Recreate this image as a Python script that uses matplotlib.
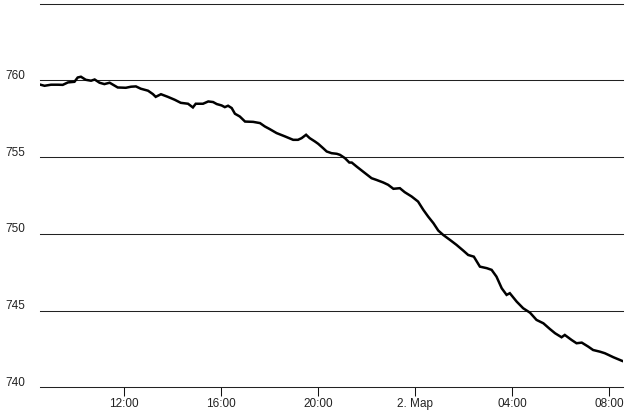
import matplotlib
matplotlib.use("Agg")
import matplotlib.pyplot as plt
import matplotlib.transforms as mtransforms
import pandas as pd

# pressure readings, 1 -> 2 March
times = [
    "03-01 08:33", "03-01 08:43", "03-01 08:59", "03-01 09:16", "03-01 09:28",
    "03-01 09:41", "03-01 09:57", "03-01 10:05", "03-01 10:13", "03-01 10:25",
    "03-01 10:38", "03-01 10:47", "03-01 10:59", "03-01 11:11", "03-01 11:24",
    "03-01 11:44", "03-01 12:04", "03-01 12:17", "03-01 12:29", "03-01 12:41",
    "03-01 12:59", "03-01 13:11", "03-01 13:18", "03-01 13:31", "03-01 13:48",
    "03-01 14:05", "03-01 14:20", "03-01 14:38", "03-01 14:50", "03-01 14:57",
    "03-01 15:15", "03-01 15:28", "03-01 15:40", "03-01 15:49", "03-01 16:01",
    "03-01 16:09", "03-01 16:17", "03-01 16:26", "03-01 16:34", "03-01 16:46",
    "03-01 16:59", "03-01 17:19", "03-01 17:36", "03-01 17:48", "03-01 18:00",
    "03-01 18:17", "03-01 18:38", "03-01 18:58", "03-01 19:10", "03-01 19:19",
    "03-01 19:30", "03-01 19:39", "03-01 19:52", "03-01 20:00", "03-01 20:12",
    "03-01 20:21", "03-01 20:33", "03-01 20:46", "03-01 20:54", "03-01 21:06",
    "03-01 21:17", "03-01 21:23", "03-01 21:35", "03-01 21:51", "03-01 22:12",
    "03-01 22:24", "03-01 22:41", "03-01 22:53", "03-01 23:06", "03-01 23:22",
    "03-01 23:34", "03-01 23:51", "03-02 00:07", "03-02 00:20", "03-02 00:32",
    "03-02 00:45", "03-02 00:57", "03-02 01:09", "03-02 01:26", "03-02 01:42",
    "03-02 01:59", "03-02 02:11", "03-02 02:25", "03-02 02:40", "03-02 02:57",
    "03-02 03:09", "03-02 03:21", "03-02 03:34", "03-02 03:46", "03-02 03:54",
    "03-02 04:11", "03-02 04:27", "03-02 04:44", "03-02 05:00", "03-02 05:17",
    "03-02 05:33", "03-02 05:46", "03-02 06:02", "03-02 06:10", "03-02 06:27",
    "03-02 06:39", "03-02 06:52", "03-02 07:08", "03-02 07:20", "03-02 07:37",
    "03-02 07:49", "03-02 07:58", "03-02 08:10", "03-02 08:31", "03-02 08:34",
]
pressure = [
    759.71, 759.64, 759.71, 759.71, 759.70,
    759.86, 759.90, 760.18, 760.23, 760.03,
    759.97, 760.05, 759.84, 759.75, 759.84,
    759.53, 759.51, 759.58, 759.60, 759.45,
    759.32, 759.10, 758.92, 759.09, 758.92,
    758.73, 758.53, 758.47, 758.23, 758.47,
    758.47, 758.62, 758.58, 758.45, 758.36,
    758.25, 758.34, 758.19, 757.82, 757.64,
    757.31, 757.29, 757.21, 756.99, 756.82,
    756.56, 756.34, 756.12, 756.12, 756.23,
    756.45, 756.23, 756.01, 755.86, 755.58,
    755.36, 755.25, 755.21, 755.14, 754.93,
    754.64, 754.64, 754.38, 754.05, 753.62,
    753.51, 753.34, 753.19, 752.93, 752.97,
    752.71, 752.43, 752.10, 751.56, 751.12,
    750.69, 750.21, 749.93, 749.60, 749.28,
    748.90, 748.62, 748.51, 747.86, 747.76,
    747.65, 747.21, 746.45, 746.02, 746.13,
    745.58, 745.15, 744.86, 744.39, 744.17,
    743.80, 743.52, 743.26, 743.41, 743.08,
    742.87, 742.91, 742.65, 742.43, 742.32,
    742.22, 742.11, 741.96, 741.73, 741.70,
]

tick_times = ["03-01 12:00", "03-01 16:00", "03-01 20:00",
              "03-02 00:00", "03-02 04:00", "03-02 08:00"]
tick_labels = ["12:00", "16:00", "20:00", "2. Мар", "04:00", "08:00"]
y_ticks = [740, 745, 750, 755, 760, 765]
y_labels = ["740", "745", "750", "755", "760", ""]

t = pd.to_datetime(["2023-" + s for s in times])
ticks = pd.to_datetime(["2023-" + s for s in tick_times])

plt.rcParams['font.family'] = ['Liberation Sans', 'DejaVu Sans']

fig = plt.figure(figsize=(6.3, 4.17), dpi=100)
ax = fig.add_axes([40.5 / 630, 1 - 387.3 / 417, (623 - 40.5) / 630, (387.3 - 3.5) / 417])

ax.plot(t, pressure, color='black', lw=1.8, solid_joinstyle='miter')

ax.set_xlim(pd.Timestamp("2023-03-01 08:33"), pd.Timestamp("2023-03-02 08:34"))
ax.set_ylim(740, 765)

for s in ax.spines.values():
    s.set_visible(False)

ax.set_yticks(y_ticks)
ax.set_yticklabels(y_labels)
ax.yaxis.grid(True, color='#222222', lw=0.75)
ax.set_axisbelow(True)
for gl in ax.get_ygridlines():
    gl.set_clip_on(False)
# sizes in points: 0.72 pt per pixel at 100 dpi
ax.tick_params(axis='y', length=0, pad=11, labelsize=8.5, labelcolor='#222222')

# y labels sit a bit above their grid lines
offset = mtransforms.ScaledTranslation(0, 6 / 100, fig.dpi_scale_trans)
for lbl in ax.get_yticklabels():
    lbl.set_transform(lbl.get_transform() + offset)

ax.set_xticks(ticks)
ax.set_xticklabels(tick_labels)
ax.tick_params(axis='x', length=6.5, width=0.75, color='#111111', pad=1.5,
               labelsize=8.5, labelcolor='#222222')

fig.savefig("out.png", dpi=100)
